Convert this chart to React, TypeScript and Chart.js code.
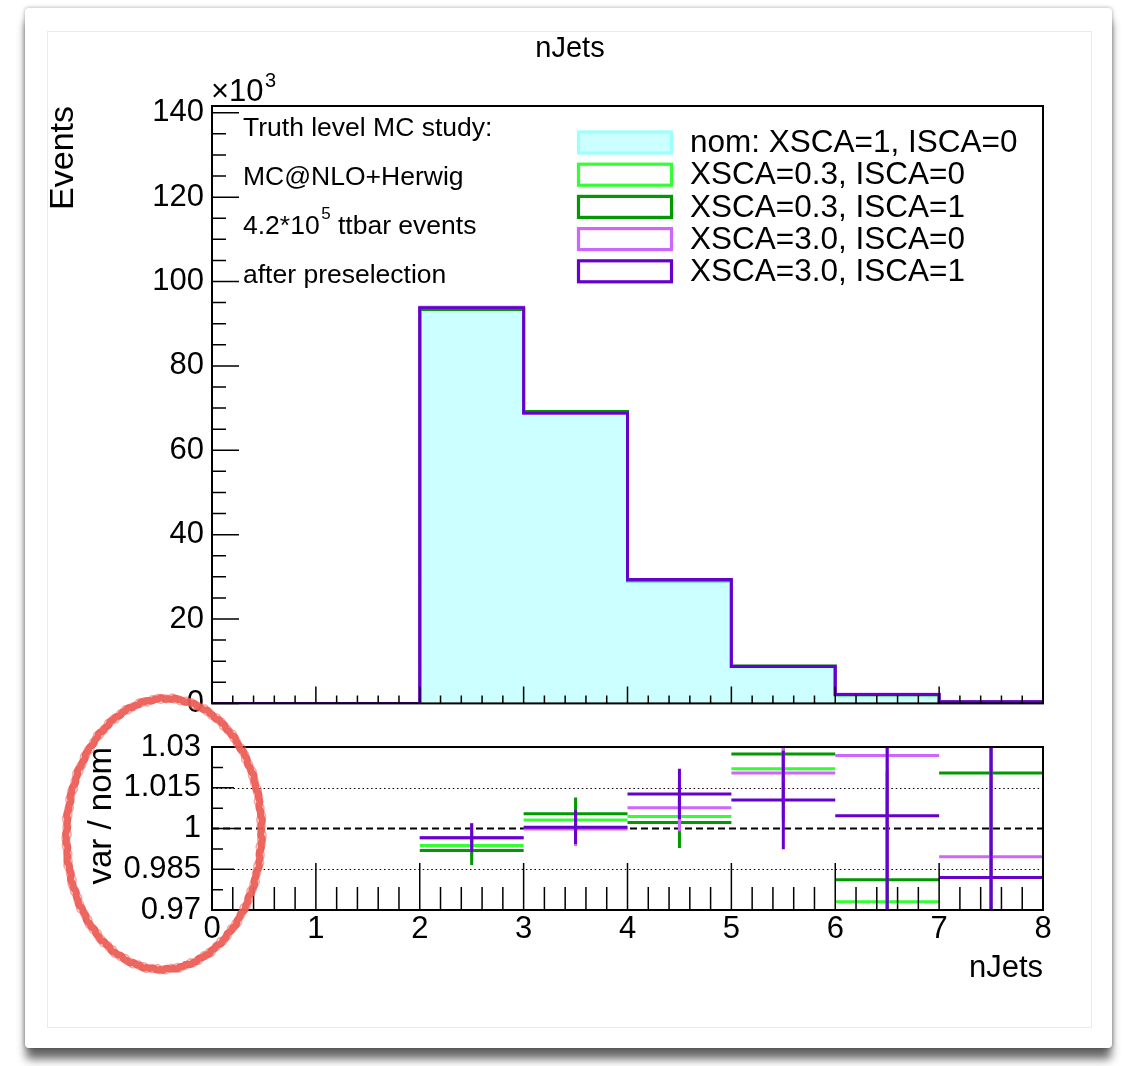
import React, { useEffect, useRef } from "react";
import { Chart, registerables } from "chart.js";

Chart.register(...registerables);

const FONT = "'Liberation Sans', Arial, Helvetica, sans-serif";
Chart.defaults.font.family = FONT;
Chart.defaults.color = "#000";

// nJets binning and axis ticks
const BIN_EDGES = [0, 1, 2, 3, 4, 5, 6, 7, 8];
const X_TICKS = [0, 1, 2, 3, 4, 5, 6, 7, 8];
const EVENT_TICKS = [0, 20, 40, 60, 80, 100, 120, 140];
const EVENT_MAX = 141.6;
const RATIO_TICKS = [0.97, 0.985, 1, 1.015, 1.03];
const RATIO_GRID = [0.985, 1.015];
const RATIO_REF = 1;

// nominal sample, events per bin (x10^3)
const NOM_EVENTS = [0, 0, 94.1, 68.8, 29.0, 8.63, 2.11, 0.41];

// var / nom per bin (null where the nominal bin is empty)
const RATIO_X03_I0 = [null, null, 0.9937, 1.0031, 1.0044, 1.022, 0.973, 0.955];
const RATIO_X03_I1 = [null, null, 0.9919, 1.0054, 1.0022, 1.0274, 0.9811, 1.0204];
const RATIO_X30_I0 = [null, null, 0.9966, 0.9998, 1.0076, 1.0204, 1.0269, 0.9896];
const RATIO_X30_I1 = [null, null, 0.9966, 1.0005, 1.0127, 1.0105, 1.0047, 0.982];

// statistical uncertainty on the ratio
const ERR_X03_I0 = [null, null, 0.0053, 0.006, 0.0094, 0.018, 0.04, 0.08];
const ERR_X03_I1 = [null, null, 0.0053, 0.006, 0.0094, 0.018, 0.04, 0.08];
const ERR_X30_I0 = [null, null, 0.0053, 0.0062, 0.0086, 0.018, 0.045, 0.07];
const ERR_X30_I1 = [null, null, 0.0053, 0.0062, 0.0093, 0.0181, 0.05, 0.065];

const SERIES_LABELS = [
  "nom: XSCA=1, ISCA=0",
  "XSCA=0.3, ISCA=0",
  "XSCA=0.3, ISCA=1",
  "XSCA=3.0, ISCA=0",
  "XSCA=3.0, ISCA=1",
];
const SERIES_COLORS = ["#99ffff", "#33ff33", "#009900", "#cc66ff", "#6600cc"];
const NOM_FILL = "#ccffff";

const PLOT_TITLE = "nJets";
const X_TITLE = "nJets";
const Y_TITLE = "Events";
const RATIO_TITLE = "var / nom";
const ANNOTATION_LINES = [
  "Truth level MC study:",
  "MC@NLO+Herwig",
  "4.2*10^{5} ttbar events",
  "after preselection",
];

const VARIANT_RATIOS = [RATIO_X03_I0, RATIO_X03_I1, RATIO_X30_I0, RATIO_X30_I1];
const VARIANT_ERRORS = [ERR_X03_I0, ERR_X03_I1, ERR_X30_I0, ERR_X30_I1];

// histogram outline: one point per left bin edge, plus the closing right edge
function stepPoints(values: number[]) {
  const pts = values.map((v, i) => ({ x: BIN_EDGES[i], y: v }));
  pts.push({ x: BIN_EDGES[values.length], y: values[values.length - 1] });
  return pts;
}

// ratio markers: horizontal bin segment and vertical error bar, separated by gaps
function ratioMarks(ratio: (number | null)[], err: (number | null)[]) {
  const pts: { x: number; y: number | null }[] = [];
  ratio.forEach((r, i) => {
    if (r == null) return;
    const lo = BIN_EDGES[i];
    const hi = BIN_EDGES[i + 1];
    const mid = (lo + hi) / 2;
    const e = err[i] ?? 0;
    pts.push({ x: lo, y: r }, { x: hi, y: r }, { x: hi, y: null });
    pts.push({ x: mid, y: r - e }, { x: mid, y: r + e }, { x: mid, y: null });
  });
  return pts;
}

type TickSpec = {
  yTicks: number[];
  ySub: number;
  yMajor: number;
  yMinor: number;
  xMajor: number;
  xMinor: number;
};

// ROOT-style ticks pointing into the frame, plus the frame itself
function drawFrameAndTicks(chart: any, spec: TickSpec) {
  const { ctx, chartArea: a, scales } = chart;
  const x = scales.x;
  const y = scales.y;
  ctx.save();
  ctx.strokeStyle = "#000";
  ctx.lineWidth = 1.5;
  ctx.setLineDash([]);
  ctx.beginPath();
  for (let i = 0; i < X_TICKS.length; i++) {
    const v = X_TICKS[i];
    const px = x.getPixelForValue(v);
    ctx.moveTo(px, a.bottom);
    ctx.lineTo(px, a.bottom - spec.xMajor);
    if (i < X_TICKS.length - 1) {
      const step = (X_TICKS[i + 1] - v) / 5;
      for (let k = 1; k < 5; k++) {
        const p = x.getPixelForValue(v + k * step);
        ctx.moveTo(p, a.bottom);
        ctx.lineTo(p, a.bottom - spec.xMinor);
      }
    }
  }
  const yt = spec.yTicks;
  for (let i = 0; i < yt.length; i++) {
    const v = yt[i];
    const py = y.getPixelForValue(v);
    ctx.moveTo(a.left, py);
    ctx.lineTo(a.left + spec.yMajor, py);
    if (i < yt.length - 1) {
      const step = (yt[i + 1] - v) / spec.ySub;
      for (let k = 1; k < spec.ySub; k++) {
        const p = y.getPixelForValue(v + k * step);
        ctx.moveTo(a.left, p);
        ctx.lineTo(a.left + spec.yMinor, p);
      }
    }
  }
  ctx.stroke();
  ctx.lineWidth = 2;
  ctx.strokeRect(a.left, a.top, a.right - a.left, a.bottom - a.top);
  ctx.restore();
}

// text with ^{...} superscripts
function drawRichText(ctx: CanvasRenderingContext2D, text: string, x: number, y: number, size: number) {
  const parts = text.split(/(\^\{[^}]*\})/);
  let cx = x;
  for (const part of parts) {
    if (!part) continue;
    if (part.startsWith("^{")) {
      const s = part.slice(2, -1);
      ctx.font = `${Math.round(size * 0.65)}px ${FONT}`;
      ctx.fillText(s, cx + 1.5, y - size * 0.46);
      cx += ctx.measureText(s).width + 1.5;
    } else {
      ctx.font = `${size}px ${FONT}`;
      ctx.fillText(part, cx, y);
      cx += ctx.measureText(part).width;
    }
  }
}

const upperDecor = {
  id: "upperDecor",
  afterDatasetsDraw(chart: any) {
    drawFrameAndTicks(chart, {
      yTicks: EVENT_TICKS,
      ySub: 4,
      yMajor: 27,
      yMinor: 14,
      xMajor: 17,
      xMinor: 8,
    });
  },
  afterDraw(chart: any) {
    const { ctx, chartArea: a } = chart;
    ctx.save();
    ctx.fillStyle = "#000";

    // pad title
    ctx.font = `29px ${FONT}`;
    ctx.textAlign = "center";
    ctx.textBaseline = "middle";
    ctx.fillText(PLOT_TITLE, 570, a.top - 57);

    // axis multiplier
    ctx.textAlign = "left";
    ctx.textBaseline = "alphabetic";
    drawRichText(ctx, "\u00d710^{3}", a.left - 1, a.top - 5, 31);

    // sample description
    ctx.textBaseline = "middle";
    ANNOTATION_LINES.forEach((line, i) => {
      drawRichText(ctx, line, a.left + 31, a.top + 22.5 + i * 48.9, 26.5);
    });

    // legend
    const boxL = a.left + 366.5;
    const boxW = 93;
    const boxH = 21;
    SERIES_LABELS.forEach((label, i) => {
      const cy = a.top + 36.5 + i * 32.2;
      ctx.fillStyle = i === 0 ? NOM_FILL : "#fff";
      ctx.fillRect(boxL, cy - boxH / 2, boxW, boxH);
      ctx.strokeStyle = SERIES_COLORS[i];
      ctx.lineWidth = 3.2;
      ctx.strokeRect(boxL, cy - boxH / 2, boxW, boxH);
      ctx.fillStyle = "#000";
      ctx.font = `31.5px ${FONT}`;
      ctx.textBaseline = "middle";
      ctx.fillText(label, a.left + 478, cy + 1);
    });
    ctx.restore();
  },
};

// hand-drawn marker ring
function roughEllipse(ctx: CanvasRenderingContext2D, cx: number, cy: number, rx: number, ry: number, rot: number) {
  ctx.save();
  ctx.translate(cx, cy);
  ctx.rotate(rot);
  const passes = [
    { w: 7, a: 0.95, dr: 0, ph: 0 },
    { w: 1.6, a: 0.55, dr: 3.6, ph: 1.3 },
    { w: 1.6, a: 0.55, dr: -3.6, ph: 2.1 },
  ];
  for (const p of passes) {
    ctx.beginPath();
    for (let i = 0; i <= 720; i++) {
      const t = (i / 720) * Math.PI * 2;
      const wob = p.dr + 0.6 * Math.sin(t * 37 + p.ph) + 0.5 * Math.sin(t * 91 + p.ph * 2);
      const px = (rx + wob) * Math.cos(t);
      const py = (ry + wob) * Math.sin(t);
      if (i === 0) ctx.moveTo(px, py);
      else ctx.lineTo(px, py);
    }
    ctx.strokeStyle = `rgba(236, 94, 87, ${p.a})`;
    ctx.lineWidth = p.w;
    ctx.stroke();
  }
  ctx.restore();
}

const lowerDecor = {
  id: "lowerDecor",
  beforeDatasetsDraw(chart: any) {
    const { ctx, chartArea: a, scales } = chart;
    const y = scales.y;
    ctx.save();
    ctx.strokeStyle = "#000";
    ctx.lineWidth = 1.2;
    ctx.setLineDash([1.5, 2.8]);
    ctx.beginPath();
    RATIO_GRID.forEach((v) => {
      const py = Math.round(y.getPixelForValue(v)) + 0.5;
      ctx.moveTo(a.left, py);
      ctx.lineTo(a.right, py);
    });
    ctx.stroke();
    ctx.lineWidth = 2.2;
    ctx.setLineDash([7, 4]);
    ctx.beginPath();
    const pr = y.getPixelForValue(RATIO_REF);
    ctx.moveTo(a.left, pr);
    ctx.lineTo(a.right, pr);
    ctx.stroke();
    ctx.restore();
  },
  afterDatasetsDraw(chart: any) {
    drawFrameAndTicks(chart, {
      yTicks: RATIO_TICKS,
      ySub: 2,
      yMajor: 22,
      yMinor: 11,
      xMajor: 47,
      xMinor: 23,
    });
  },
  afterDraw(chart: any) {
    const { ctx, chartArea: a } = chart;
    roughEllipse(ctx, a.left - 48, a.top + 87, 97.5, 135.5, 0.03);
  },
};

function upperConfig(): any {
  const datasets: any[] = [
    {
      label: SERIES_LABELS[0],
      data: stepPoints(NOM_EVENTS),
      borderColor: SERIES_COLORS[0],
      backgroundColor: NOM_FILL,
      fill: "origin",
      order: 4,
    },
    ...VARIANT_RATIOS.map((r, k) => ({
      label: SERIES_LABELS[k + 1],
      data: stepPoints(NOM_EVENTS.map((n, i) => n * (r[i] ?? 1))),
      borderColor: SERIES_COLORS[k + 1],
      fill: false,
      order: 3 - k,
    })),
  ].map((ds) => ({ ...ds, stepped: "before", borderWidth: 3, pointRadius: 0, borderJoinStyle: "miter" }));

  return {
    type: "line",
    data: { datasets },
    plugins: [upperDecor],
    options: {
      responsive: false,
      animation: false,
      events: [],
      layout: { padding: { left: 0, right: 81, top: 106, bottom: 0 } },
      plugins: { legend: { display: false }, tooltip: { enabled: false }, title: { display: false } },
      scales: {
        x: {
          type: "linear",
          min: BIN_EDGES[0],
          max: BIN_EDGES[BIN_EDGES.length - 1],
          ticks: { display: false },
          grid: { display: false, drawTicks: false },
          border: { display: false },
          afterFit: (s: any) => {
            s.height = 24;
          },
        },
        y: {
          type: "linear",
          min: 0,
          max: EVENT_MAX,
          afterBuildTicks: (s: any) => {
            s.ticks = EVENT_TICKS.map((v) => ({ value: v }));
          },
          afterFit: (s: any) => {
            s.width = 212;
          },
          grid: { display: false, drawTicks: false },
          border: { display: false },
          ticks: { font: { family: FONT, size: 31 }, color: "#000", padding: 8, callback: (v: number) => String(v) },
          title: {
            display: true,
            text: Y_TITLE,
            align: "end",
            color: "#000",
            font: { family: FONT, size: 34 },
            padding: { top: 43, bottom: 0 },
          },
        },
      },
    },
  };
}

function lowerConfig(): any {
  const datasets = VARIANT_RATIOS.map((r, k) => ({
    label: SERIES_LABELS[k + 1],
    data: ratioMarks(r, VARIANT_ERRORS[k]),
    borderColor: SERIES_COLORS[k + 1],
    borderWidth: 3,
    borderCapStyle: "butt",
    pointRadius: 0,
    spanGaps: false,
    fill: false,
    order: 3 - k,
  }));

  return {
    type: "line",
    data: { datasets },
    plugins: [lowerDecor],
    options: {
      responsive: false,
      animation: false,
      events: [],
      layout: { padding: { left: 0, right: 81, top: 67, bottom: 79 } },
      plugins: { legend: { display: false }, tooltip: { enabled: false }, title: { display: false } },
      scales: {
        x: {
          type: "linear",
          min: BIN_EDGES[0],
          max: BIN_EDGES[BIN_EDGES.length - 1],
          afterBuildTicks: (s: any) => {
            s.ticks = X_TICKS.map((v) => ({ value: v }));
          },
          afterFit: (s: any) => {
            s.height = 77;
          },
          grid: { display: false, drawTicks: false },
          border: { display: false },
          ticks: {
            font: { family: FONT, size: 31 },
            color: "#000",
            padding: 1,
            maxRotation: 0,
            autoSkip: false,
            callback: (v: number) => String(v),
          },
          title: {
            display: true,
            text: X_TITLE,
            align: "end",
            color: "#000",
            font: { family: FONT, size: 31 },
            padding: { top: 0, bottom: 0 },
          },
        },
        y: {
          type: "linear",
          min: RATIO_TICKS[0],
          max: RATIO_TICKS[RATIO_TICKS.length - 1],
          afterBuildTicks: (s: any) => {
            s.ticks = RATIO_TICKS.map((v) => ({ value: v }));
          },
          afterFit: (s: any) => {
            s.width = 212;
          },
          grid: { display: false, drawTicks: false },
          border: { display: false },
          ticks: { font: { family: FONT, size: 31 }, color: "#000", padding: 11, callback: (v: number) => String(v) },
          title: {
            display: true,
            text: RATIO_TITLE,
            align: "end",
            color: "#000",
            font: { family: FONT, size: 33 },
            padding: { top: 82, bottom: 0 },
          },
        },
      },
    },
  };
}

export default function App() {
  const upperRef = useRef<HTMLCanvasElement>(null);
  const lowerRef = useRef<HTMLCanvasElement>(null);

  useEffect(() => {
    const upper = new Chart(upperRef.current as HTMLCanvasElement, upperConfig());
    const lower = new Chart(lowerRef.current as HTMLCanvasElement, lowerConfig());
    return () => {
      upper.destroy();
      lower.destroy();
    };
  }, []);

  return (
    <div
      style={{
        position: "absolute",
        left: 0,
        top: 0,
        width: 1124,
        height: 1066,
        background: "#fff",
        overflow: "hidden",
      }}
    >
      <div
        style={{
          position: "absolute",
          left: 25,
          top: 8,
          width: 1087,
          height: 1040,
          background: "#fff",
          borderRadius: 4,
          boxShadow: "0 0 4px rgba(0,0,0,0.35), 0 12px 10px -1px rgba(0,0,0,0.6)",
        }}
      />
      <div
        style={{
          position: "absolute",
          left: 47,
          top: 31,
          width: 1043,
          height: 995,
          border: "1px solid #ebebeb",
          background: "#fff",
        }}
      />
      <canvas
        ref={upperRef}
        width={1124}
        height={730}
        style={{ position: "absolute", left: 0, top: 0, width: 1124, height: 730 }}
      />
      <canvas
        ref={lowerRef}
        width={1124}
        height={386}
        style={{ position: "absolute", left: 0, top: 680, width: 1124, height: 386 }}
      />
    </div>
  );
}
